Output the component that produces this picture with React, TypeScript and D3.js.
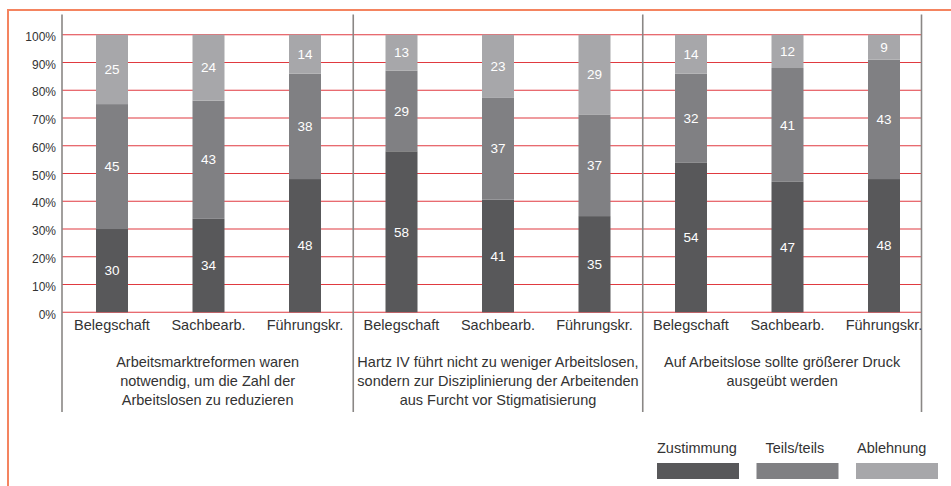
import React from "react";
import * as d3 from "d3";

const categories = ["Belegschaft", "Sachbearb.", "Führungskr."];
const groupTitles: string[][] = [
  ["Arbeitsmarktreformen waren", "notwendig, um die Zahl der", "Arbeitslosen zu reduzieren"],
  ["Hartz IV führt nicht zu weniger Arbeitslosen,", "sondern zur Disziplinierung der Arbeitenden", "aus Furcht vor Stigmatisierung"],
  ["Auf Arbeitslose sollte größerer Druck", "ausgeübt werden"],
];
const seriesNames = ["Zustimmung", "Teils/teils", "Ablehnung"];
const zustimmung = [30, 34, 48, 58, 41, 35, 54, 47, 48];
const teils = [45, 43, 38, 29, 37, 37, 32, 41, 43];
const ablehnung = [25, 24, 14, 13, 23, 29, 14, 12, 9];
const yTicks = [0, 10, 20, 30, 40, 50, 60, 70, 80, 90, 100];

const colors = ["#58585a", "#808083", "#a7a7aa"];
const FONT = "'Liberation Sans', Arial, sans-serif";

export default function App() {
  const W = 951, H = 486;
  const axisX = 62;
  const rightX = 921.5;
  const y = d3.scaleLinear().domain([0, 100]).range([312.3, 34.7]);
  const gScale = d3.scaleBand<number>().domain([0, 1, 2]).range([63.75, 932.25]);
  const cScale = d3.scaleBand<number>().domain([0, 1, 2]).range([0, gScale.bandwidth()]);
  const barW = 32;

  const rows = zustimmung.map((z, i) => ({
    i,
    g: Math.floor(i / 3),
    c: i % 3,
    s0: z,
    s1: teils[i],
    s2: ablehnung[i],
  }));
  const keys = ["s0", "s1", "s2"];
  const stacked = d3.stack<any>().keys(keys).offset(d3.stackOffsetExpand)(rows);

  const cx = (r: any) => (gScale(r.g) as number) + (cScale(r.c) as number) + cScale.bandwidth() / 2;

  const lineColor = "#8a8785";
  const gridColor = "#e03a40";
  const textColor = "#333333";

  return (
    <svg width={W} height={H} style={{ position: "absolute", left: 0, top: 0, background: "#fff" }} fontFamily={FONT}>
      {/* frame */}
      <line x1={8} x2={W} y1={10} y2={10} stroke="#f48460" strokeWidth={2} />
      <line x1={8} x2={8} y1={9} y2={H} stroke="#f48460" strokeWidth={2} />

      {/* gridlines */}
      {yTicks.map((t) => (
        <line key={"g" + t} x1={axisX} x2={rightX} y1={y(t)} y2={y(t)} stroke={gridColor} strokeWidth={1.1} />
      ))}
      {yTicks.map((t) => (
        <text key={"t" + t} x={56} y={y(t) + 2} dy="0.35em" textAnchor="end" fontSize={12} fill={textColor}>
          {t}%
        </text>
      ))}

      {/* bars */}
      {stacked.map((layer, k) =>
        layer.map((seg, j) => {
          const r = rows[j];
          const x0 = cx(r) - barW / 2;
          const top = y(seg[1] * 100);
          const bot = y(seg[0] * 100);
          return (
            <rect key={`b${k}-${j}`} x={x0} y={top} width={barW} height={bot - top} fill={colors[k]} />
          );
        })
      )}
      {stacked.map((layer, k) =>
        layer.map((seg, j) => {
          const r: any = rows[j];
          const mid = y(((seg[0] + seg[1]) / 2) * 100);
          return (
            <text key={`l${k}-${j}`} x={cx(r)} y={mid} dy="0.35em" textAnchor="middle" fontSize={13.5} fill="#ffffff">
              {r[keys[k]]}
            </text>
          );
        })
      )}

      {/* vertical lines */}
      {[axisX, gScale(1) as number, gScale(2) as number, rightX].map((x, i) => (
        <line key={"v" + i} x1={x} x2={x} y1={14.5} y2={412} stroke={lineColor} strokeWidth={1.6} />
      ))}

      {/* category labels */}
      {rows.map((r) => (
        <text key={"c" + r.i} x={cx(r)} y={330} textAnchor="middle" fontSize={14.5} fill={textColor}>
          {categories[r.c]}
        </text>
      ))}

      {/* group titles */}
      {groupTitles.map((lines, g) => {
        const left = g === 0 ? axisX : (gScale(g) as number);
        const right = g === 2 ? rightX : (gScale(g + 1) as number);
        const mx = (left + right) / 2;
        return lines.map((ln, li) => (
          <text key={`gt${g}-${li}`} x={mx} y={366.5 + li * 19.2} textAnchor="middle" fontSize={14.5} fill={textColor}>
            {ln}
          </text>
        ));
      })}

      {/* legend */}
      {seriesNames.map((name, k) => {
        const lx = 657 + k * 99.5;
        const offs = [0, 9, 1];
        return (
          <g key={"lg" + k}>
            <text x={lx + offs[k]} y={452.5} fontSize={14.5} fill={textColor}>
              {name}
            </text>
            <rect x={lx} y={463} width={82} height={16} fill={colors[k]} />
          </g>
        );
      })}
    </svg>
  );
}
